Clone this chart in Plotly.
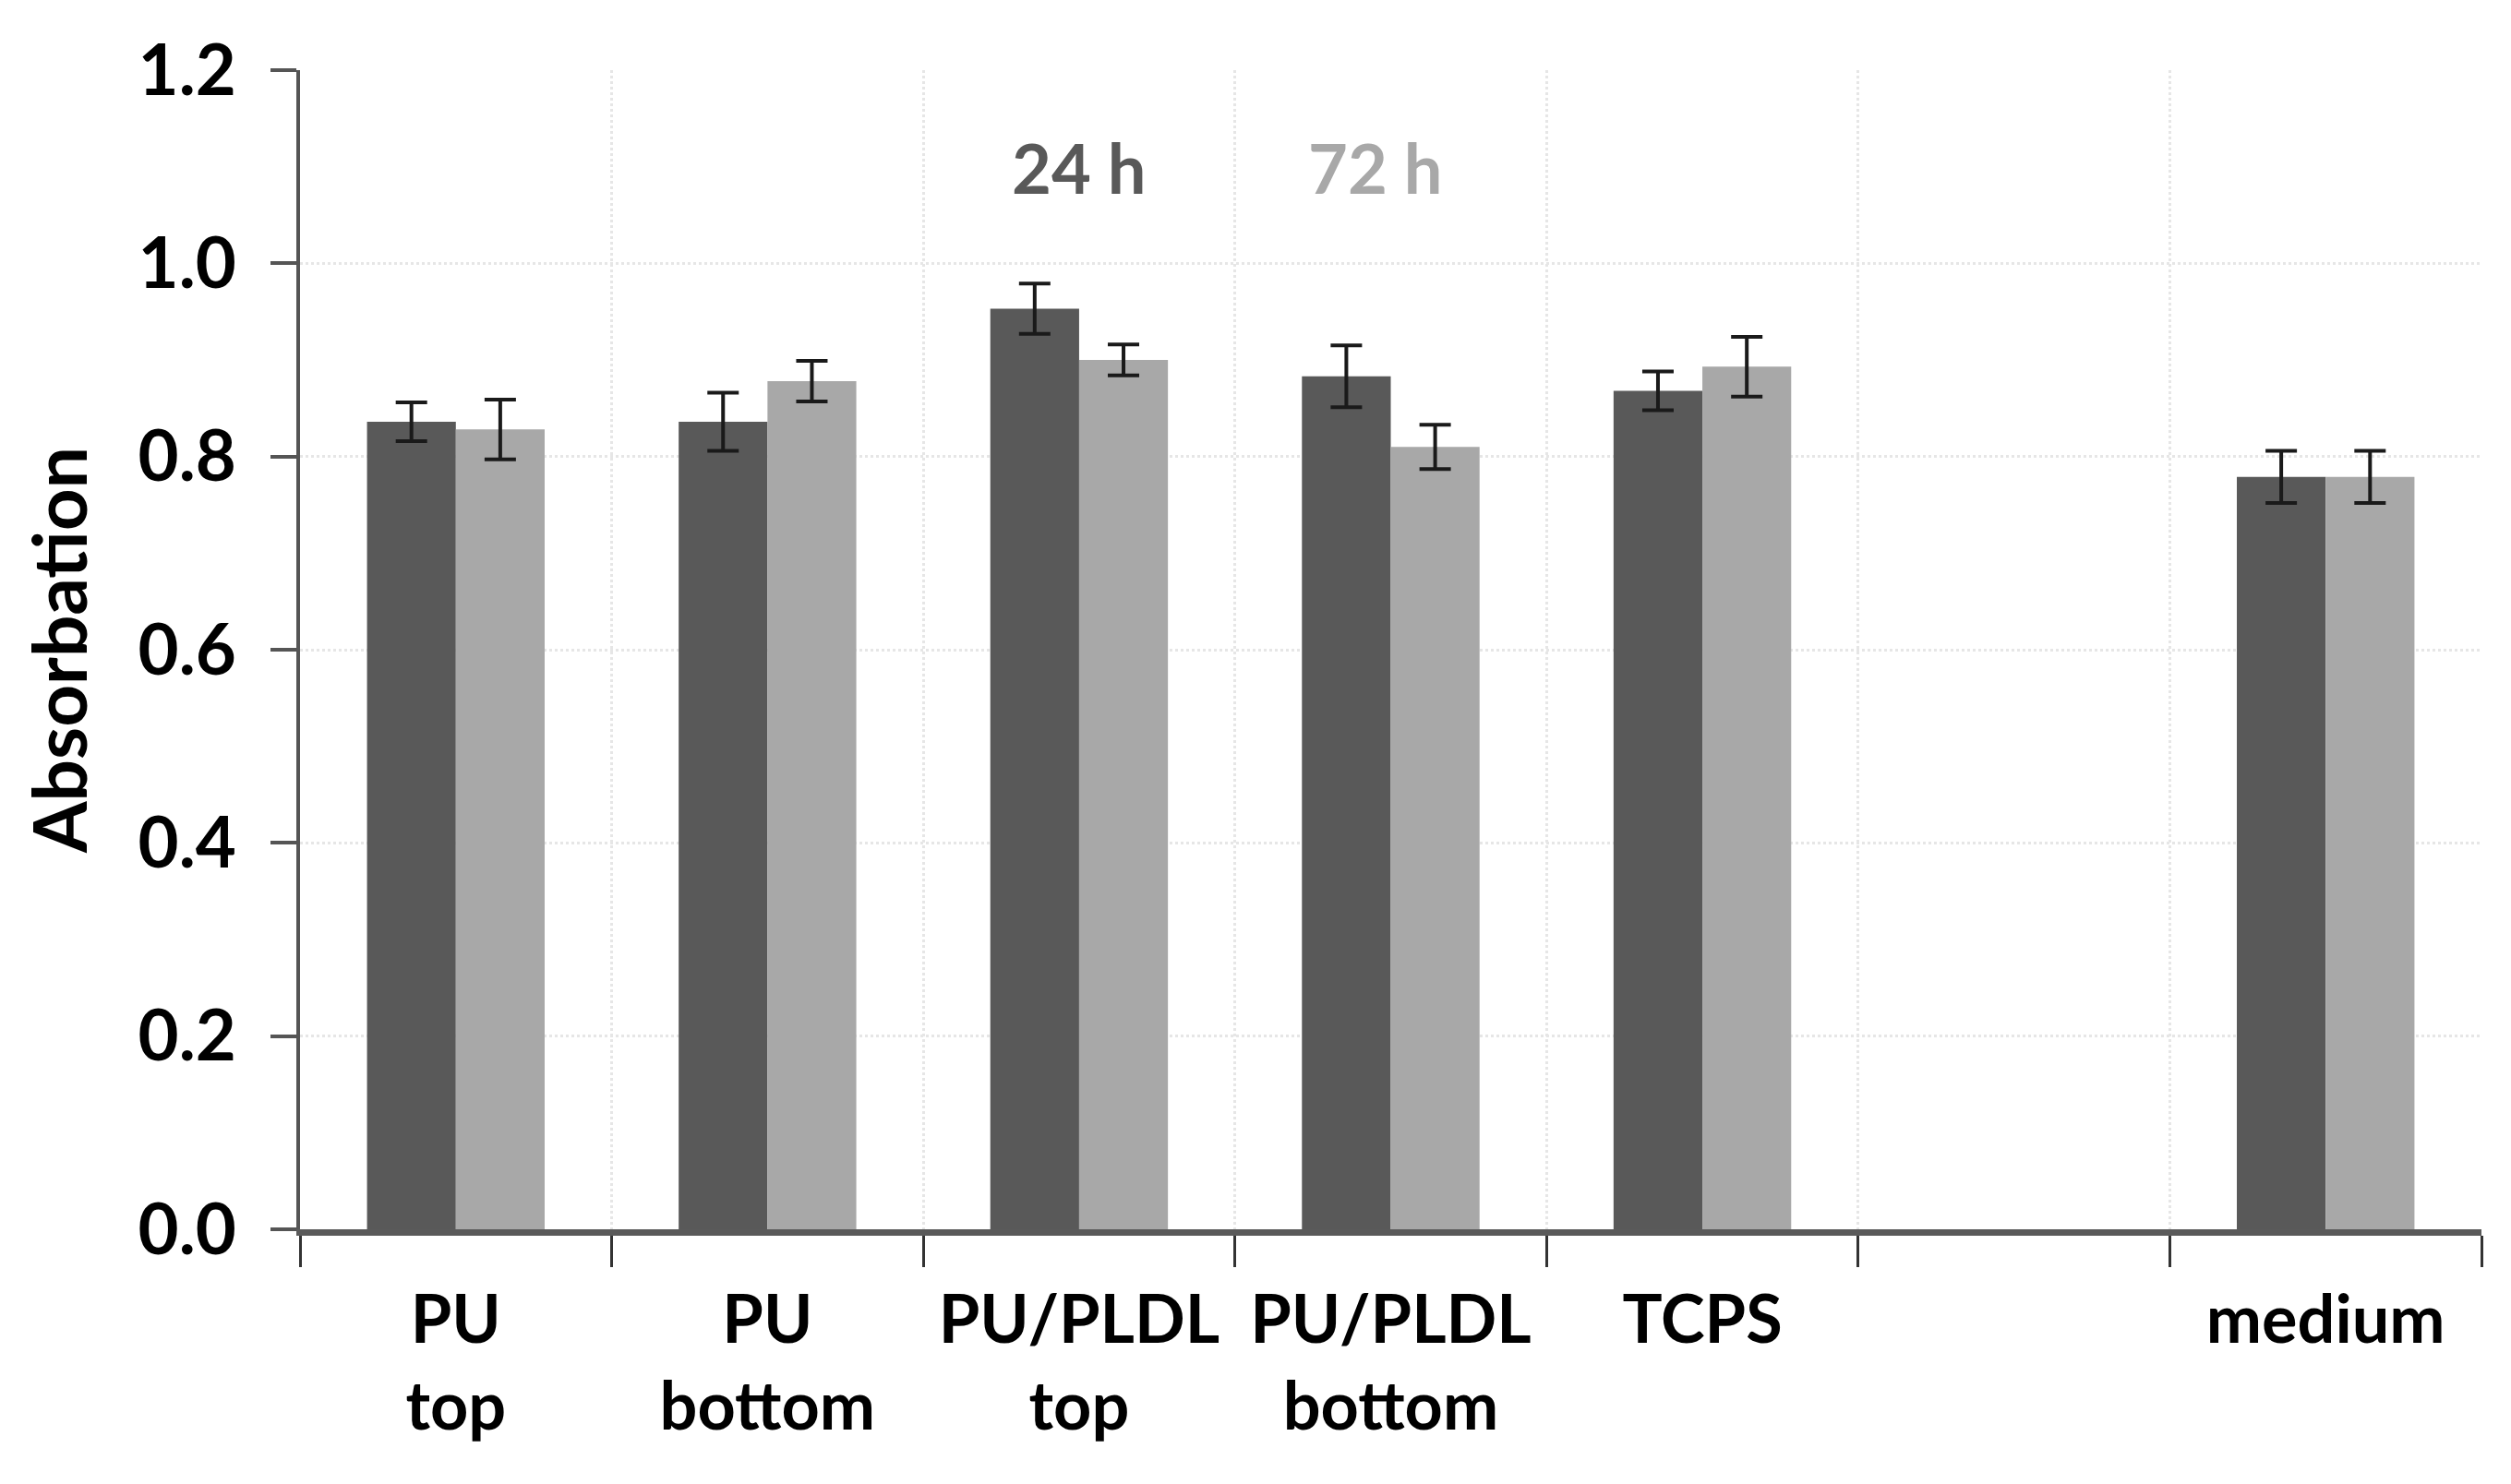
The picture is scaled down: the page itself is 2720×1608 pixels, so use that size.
import plotly.graph_objects as go

categories = ["PU<br>top", "PU<br>bottom", "PU/PLDL<br>top", "PU/PLDL<br>bottom", "TCPS", " ", "medium"]
vals_24h = [0.836, 0.836, 0.953, 0.883, 0.868, None, 0.779]
err_24h = [0.020, 0.030, 0.026, 0.032, 0.020, None, 0.027]
vals_72h = [0.828, 0.878, 0.900, 0.810, 0.893, None, 0.779]
err_72h = [0.031, 0.021, 0.016, 0.023, 0.031, None, 0.027]
y_ticks = [0.0, 0.2, 0.4, 0.6, 0.8, 1.0, 1.2]
y_ticktext = ["0.0", "0.2", "0.4", "0.6", "0.8", "1.0", "1.2"]

DARK = "#595959"
LIGHT = "#a8a8a8"
FONT = "Lato"

fig = go.Figure()
fig.add_trace(go.Bar(
    name="24 h", x=categories, y=vals_24h, marker=dict(color=DARK, line=dict(width=0)),
    error_y=dict(type="data", array=err_24h, visible=True, color="#1a1a1a", thickness=4, width=17),
))
fig.add_trace(go.Bar(
    name="72 h", x=categories, y=vals_72h, marker=dict(color=LIGHT, line=dict(width=0)),
    error_y=dict(type="data", array=err_72h, visible=True, color="#1a1a1a", thickness=4, width=17),
))

fig.add_annotation(x=2.0, y=1.099, xref="x", yref="y", text="<b>24 h</b>", showarrow=False,
                   font=dict(family=FONT, size=74, color=DARK))
fig.add_annotation(x=2.95, y=1.099, xref="x", yref="y", text="<b>72 h</b>", showarrow=False,
                   font=dict(family=FONT, size=74, color=LIGHT))

fig.update_layout(
    width=2720, height=1608,
    margin=dict(l=317, r=40, t=68, b=284),
    paper_bgcolor="white", plot_bgcolor="white",
    barmode="group", bargap=0.43, bargroupgap=0.0,
    showlegend=False,
    font=dict(family=FONT, color="black"),
)
fig.update_xaxes(
    type="category", tickson="boundaries", ticks="outside", ticklen=34, tickwidth=3, tickcolor="#333333",
    showgrid=True, gridcolor="#e6e6e6", gridwidth=3, griddash="dot",
    showline=True, linecolor="#5a5a5a", linewidth=7,
    tickfont=dict(family=FONT, size=72, color="black", weight="bold"),
    ticklabelstandoff=30, automargin=False,
)
fig.update_yaxes(
    range=[0, 1.2], tickvals=y_ticks, ticktext=y_ticktext,
    ticks="outside", ticklen=28, tickwidth=4, tickcolor="#555555",
    showgrid=True, gridcolor="#e6e6e6", gridwidth=3, griddash="dot",
    showline=True, linecolor="#555555", linewidth=4, zeroline=False,
    tickfont=dict(family=FONT, size=76, color="black", weight="bold"),
    ticklabelstandoff=22,
    title=dict(text="Absorbation", font=dict(family=FONT, size=80, color="black", weight="bold"), standoff=30),
    automargin=False,
)

fig.write_html("out.html")
